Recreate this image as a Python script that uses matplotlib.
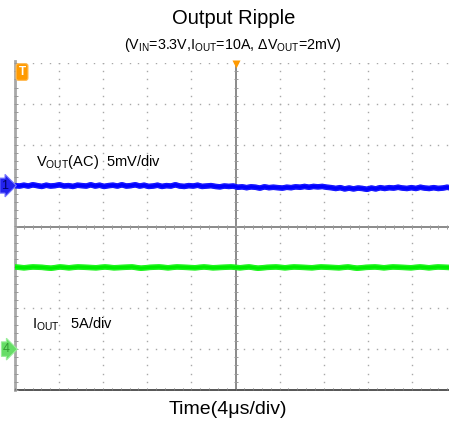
import numpy as np
import matplotlib
matplotlib.use("Agg")
import matplotlib.pyplot as plt

plt.rcParams['font.family'] = ['Liberation Sans', 'DejaVu Sans']
plt.rcParams['mathtext.fontset'] = 'custom'
plt.rcParams['mathtext.rm'] = 'Liberation Sans'
plt.rcParams['mathtext.it'] = 'Liberation Sans'

title = "Output Ripple"
subtitle = r"(V$_{\mathrm{IN}}$=3.3V,I$_{\mathrm{OUT}}$=10A, ΔV$_{\mathrm{OUT}}$=2mV)"
xlabel = "Time(4μs/div)"
vout_label = r"V$_{\mathrm{OUT}}$(AC)  5mV/div"
iout_label = r"I$_{\mathrm{OUT}}$   5A/div"

# Oscilloscope traces in divisions (screen: 10 x 8 div)
vout_div = [1.00, 0.99, 1.01, 0.99, 1.02, 1.00, 0.98, 1.01, 0.99, 1.00,
            1.02, 0.99, 1.00, 0.98, 1.01, 1.00, 0.99, 1.02, 0.99, 1.01,
            0.98, 1.00, 1.01, 0.99, 1.02, 0.99, 1.00, 1.02, 0.99, 1.01,
            0.98, 0.99, 1.01, 0.98, 1.00, 0.99, 1.02, 0.99, 0.98, 1.00,
            0.99, 1.01, 0.98, 0.99, 1.00, 0.98, 0.97, 0.99, 0.98, 0.99,
            0.96, 0.97, 0.95, 0.97, 0.96, 0.94, 0.97, 0.95, 0.96, 0.95,
            0.94, 0.96, 0.95, 0.97, 0.96, 0.98, 0.96, 0.98, 0.97, 0.98,
            0.96, 0.95, 0.93, 0.95, 0.92, 0.94, 0.92, 0.94, 0.93, 0.91,
            0.94, 0.92, 0.95, 0.93, 0.95, 0.94, 0.96, 0.94, 0.93, 0.95,
            0.93, 0.96, 0.94, 0.93, 0.95, 0.93, 0.94, 0.96, 0.94, 0.95]
iout_div = [-0.99, -1.01, -0.99, -1.00, -1.02, -0.99, -1.01, -0.99, -1.00, -1.01,
            -0.99, -1.01, -1.00, -0.99, -1.02, -1.00, -0.99, -1.01, -0.99, -1.00,
            -1.01, -0.99, -1.01, -1.00, -0.99, -1.01, -0.99, -1.02, -1.00, -0.99,
            -1.01, -0.99, -1.00, -1.01, -0.99, -1.00, -1.01, -0.99, -1.02, -1.00,
            -0.99, -1.01, -0.99, -1.00, -1.01, -0.99, -1.01, -0.99, -1.00, -1.01]

x_divs = 10
y_divs = 8
ch1_offset = 1.0
ch4_offset = -3.0

W, H = 449, 421
fig = plt.figure(figsize=(W / 100, H / 100), dpi=100)
left_px, right_px, top_px, bot_px = 15, 456, 63, 390
ax = fig.add_axes([left_px / W, 1 - bot_px / H, (right_px - left_px) / W, (bot_px - top_px) / H])
ax.set_xlim(-x_divs / 2, x_divs / 2)
ax.set_ylim(-y_divs / 2, y_divs / 2)
ax.axis('off')

grid_c = '#a8a8a8'
# dotted grid
minor_x = np.arange(-5, 5.01, 0.2)
minor_y = np.arange(-4, 4.01, 0.2)
for gx in range(-4, 5):
    if gx == 0:
        continue
    ax.plot(np.full_like(minor_y, gx), minor_y, ls='none', marker='s', ms=1.0, mec='none', mfc=grid_c)
for gy in [-3, -2, -1, 1, 2, 3, 4]:
    ax.plot(minor_x, np.full_like(minor_x, gy), ls='none', marker='s', ms=1.0, mec='none', mfc=grid_c)

# center cross with ticks
ax.plot([-5, 5], [0, 0], color='#8a8a8a', lw=1.4)
ax.plot([0, 0], [-4, 4], color='#8a8a8a', lw=1.4)
ax.plot(minor_x, np.zeros_like(minor_x), ls='none', marker='|', ms=3, mew=0.7, color='#999999')
ax.plot(np.zeros_like(minor_y), minor_y, ls='none', marker='_', ms=3, mew=0.7, color='#999999')

# borders
ax.plot([-5, 5], [-4, -4], color='#555555', lw=1.4, clip_on=False)
ax.plot([-5, -5], [-4, 4.05], color='#a8a8a8', lw=2.0, clip_on=False)
ax.plot(np.full_like(minor_y, -4.97), minor_y, ls='none', marker='_', ms=2.2, mew=0.7, color='#999999', clip_on=False)
ax.plot(minor_x, np.full_like(minor_x, -3.97), ls='none', marker='|', ms=2, mew=0.7, color='#777777', clip_on=False)

# traces
tv = np.linspace(-5, 5, len(vout_div))
ti = np.linspace(-5, 5, len(iout_div))
ax.plot(tv, vout_div, color='#0000ff', lw=4.0)
ax.plot(tv, np.array(vout_div) + 0.05, color='#3333ff', lw=0.8, alpha=0.5)
ax.plot(tv, np.array(vout_div) - 0.05, color='#3333ff', lw=0.8, alpha=0.5)
ax.plot(ti, iout_div, color='#00ee00', lw=4.0)
ax.plot(ti, np.array(iout_div) + 0.05, color='#44ff44', lw=0.8, alpha=0.5)
ax.plot(ti, np.array(iout_div) - 0.05, color='#44ff44', lw=0.8, alpha=0.5)

# channel markers
ax.text(-5.23, ch1_offset, '1', color='#000066', fontsize=9, ha='center', va='center', clip_on=False,
        bbox=dict(boxstyle='rarrow,pad=0.12', fc='#2222ee', ec='#7777ff', lw=0.8))
ax.text(-5.2, ch4_offset, '4', color='#339933', fontsize=9, ha='center', va='center', clip_on=False,
        bbox=dict(boxstyle='rarrow,pad=0.1', fc='#66dd66', ec='#99ee99', lw=0.8))
ax.text(-4.84, 3.78, 'T', color='white', fontsize=8.5, fontweight='bold', ha='center', va='center',
        bbox=dict(boxstyle='round,pad=0.2', fc='#ff9a00', ec='#ffbb55', lw=0.8))
ax.plot([0], [3.97], marker='v', ms=6, color='#ff9a00', mec='none', clip_on=False)

# labels
ax.text(-4.52, 1.48, vout_label, fontsize=10.5, ha='left', va='baseline')
ax.text(-4.615, -2.49, iout_label, fontsize=10.5, ha='left', va='baseline')

fig.text(234 / W, 1 - 19 / H, title, fontsize=14.5, ha='center', va='center')
fig.text(233 / W, 1 - 45 / H, subtitle, fontsize=10.3, ha='center', va='center')
fig.text(228 / W, 1 - 410 / H, xlabel, fontsize=14, ha='center', va='center')

fig.savefig('out.png', dpi=100)
